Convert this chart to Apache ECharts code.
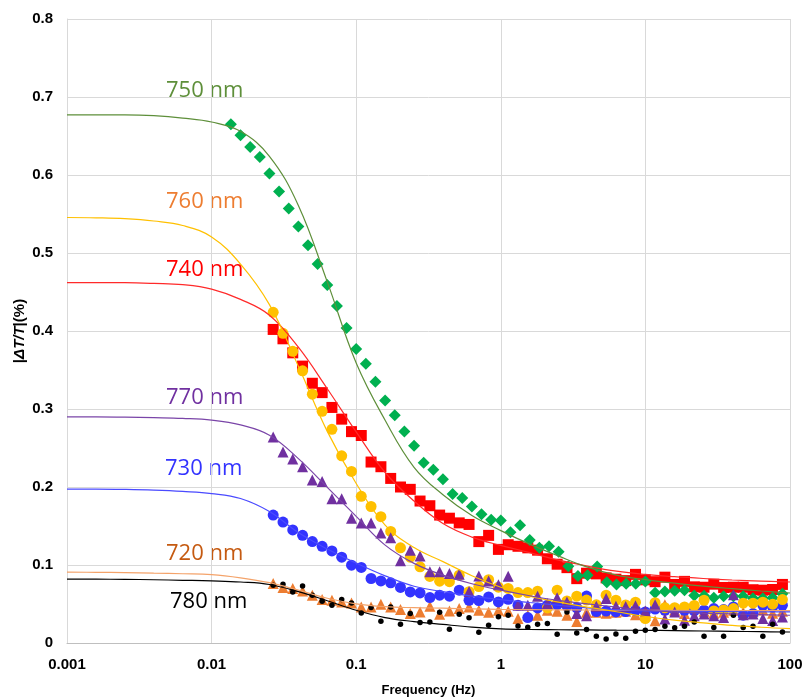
<!DOCTYPE html>
<html>
<head>
<meta charset="utf-8">
<script src="https://cdn.jsdelivr.net/npm/echarts@6/dist/echarts.min.js"></script>
<style>
  html, body { margin: 0; padding: 0; background: #ffffff; }
  #chart { width: 806px; height: 699px; }
</style>
</head>
<body>
<div id="chart"></div>
<script>
// Measurement frequencies (Hz), shared by the 720-780 nm runs
const freqB = [0.02666,0.03116,0.03641,0.04256,0.04974,0.05813,0.06793,0.07939,0.09279,0.1084,
  0.1267,0.1482,0.1732,0.2024,0.2365,0.2764,0.3231,0.3776,0.4413,0.5157,
  0.6031,0.7048,0.8237,0.9627,1.125,1.315,1.537,1.796,2.099,2.453,
  2.868,3.352,3.917,4.578,5.350,6.253,7.308,8.541,9.982,11.67,
  13.64,15.94,18.63,21.77,25.44,29.73,34.75,40.61,47.46,55.47,
  64.90,75.85,88.64];

// 750 nm run: low-frequency sweep up to 10 Hz, then high-frequency sweep
const freq750 = [0.01359,0.01585,0.01848,0.02154,0.02512,0.02929,0.03415,0.03981,0.04642,0.05412,
  0.0631,0.07356,0.08577,0.1,0.1166,0.1359,0.1585,0.1848,0.2154,0.2512,
  0.2929,0.3415,0.3981,0.4642,0.5412,0.631,0.7356,0.8577,1,1.166,
  1.359,1.585,1.848,2.154,2.512,2.929,3.415,3.981,4.642,5.412,
  6.31,7.356,8.577,10,
  11.67,13.64,15.94,18.63,21.77,25.44,29.73,34.75,40.61,47.46,55.47,64.9,75.85,88.64];

// |ΔT/T| (%) measured values
const val750 = [0.665,0.651,0.636,0.623,0.602,0.579,0.557,0.534,0.510,0.486,
  0.459,0.432,0.404,0.377,0.358,0.335,0.311,0.292,0.271,0.253,
  0.231,0.222,0.210,0.191,0.186,0.175,0.165,0.158,0.157,0.142,
  0.151,0.132,0.122,0.124,0.117,0.0985,0.086,0.087,0.098,0.078,
  0.075,0.076,0.076,0.079,
  0.0645,0.066,0.067,0.0675,0.061,0.0605,0.058,0.060,0.060,0.060,0.0575,0.0575,0.058,0.063];

const val740 = [0.402,0.390,0.372,0.355,0.333,0.321,0.302,0.287,0.271,0.266,
  0.232,0.226,0.211,0.200,0.197,0.182,0.176,0.164,0.160,0.154,
  0.152,0.130,0.138,0.120,0.126,0.124,0.122,0.119,0.108,0.101,
  0.0966,0.0825,0.0895,0.0886,0.0835,0.0818,0.080,0.088,0.081,0.0786,
  0.0844,0.0751,0.079,0.072,0.0715,0.0754,0.0712,0.0715,0.0715,0.0683,
  0.0677,0.0686,0.0751];

const val760 = [0.424,0.397,0.374,0.349,0.319,0.297,0.274,0.240,0.220,0.188,
  0.175,0.162,0.143,0.122,0.110,0.0976,0.0853,0.0793,0.0786,0.087,
  0.0658,0.0724,0.0812,0.0715,0.0699,0.0647,0.0647,0.0664,0.045,0.0677,
  0.054,0.060,0.055,0.049,0.0613,0.0548,0.0488,0.0523,0.0313,0.0516,
  0.0452,0.0452,0.0462,0.0482,0.0548,0.0411,0.0424,0.0442,0.051,0.051,
  0.0523,0.0497,0.0557];

const val770 = [0.264,0.245,0.236,0.226,0.209,0.207,0.185,0.185,0.160,0.154,
  0.154,0.141,0.135,0.1056,0.119,0.1116,0.0912,0.0912,0.0891,0.0882,
  0.066,0.086,0.0796,0.0748,0.0857,0.0484,0.0484,0.060,0.0506,0.058,
  0.0527,0.0378,0.0349,0.0471,0.057,0.0471,0.0467,0.0478,0.0411,0.0491,
  0.0307,0.0398,0.0292,0.0349,0.0373,0.0349,0.0326,0.0617,0.0362,0.0373,
  0.0313,0.0288,0.0334];

const val730 = [0.164,0.155,0.145,0.138,0.130,0.124,0.118,0.110,0.0998,0.0969,
  0.0827,0.0796,0.0771,0.0712,0.0655,0.0642,0.0583,0.0613,0.060,0.0677,
  0.0548,0.0545,0.0591,0.0527,0.0561,0.0484,0.0326,0.045,0.0484,0.0491,
  0.0474,0.0452,0.0602,0.0403,0.041,0.0398,0.0403,0.042,0.0398,0.0435,
  0.042,0.0429,0.042,0.0411,0.042,0.0442,0.0429,0.0462,0.0356,0.0378,
  0.0484,0.0462,0.0484];

const val720 = [0.0763,0.0712,0.0699,0.0668,0.0613,0.0557,0.0548,0.0527,0.0514,0.0462,
  0.0462,0.0497,0.0462,0.0429,0.0378,0.0398,0.0471,0.0369,0.0411,0.0442,
  0.0462,0.042,0.0394,0.042,0.0407,0.0313,0.0356,0.0356,0.042,0.0407,
  0.0356,0.0275,0.0394,0.0394,0.038,0.0394,0.0407,0.0362,0.0356,0.0285,
  0.0491,0.042,0.0378,0.0462,0.0407,0.038,0.0394,0.042,0.0394,0.0407,
  0.0424,0.038,0.0407];

const val780 = [0.0741,0.0754,0.0655,0.0732,0.0613,0.0536,0.0484,0.0557,0.0514,0.0385,
  0.0455,0.0279,0.0462,0.024,0.0378,0.0262,0.027,0.0394,0.0176,0.0369,
  0.0324,0.0137,0.0227,0.0337,0.0356,0.0218,0.0202,0.024,0.0249,0.0112,
  0.0398,0.0128,0.0172,0.0086,0.0051,0.0116,0.006,0.015,0.0163,0.0172,
  0.0215,0.0195,0.0215,0.027,0.0086,0.0198,0.0086,0.0356,0.0198,0.0215,
  0.0086,0.024,0.0141];

// Fitted response curves, sampled at five points per decade
const fitFreq = [0.001,0.001585,0.002512,0.003981,0.00631,
  0.01,0.01585,0.02512,0.03981,0.0631,
  0.1,0.1585,0.2512,0.3981,0.631,
  1,1.585,2.512,3.981,6.31,
  10,15.85,25.12,39.81,63.1,100];
const fit750 = [0.677,0.677,0.677,0.676,0.673,0.668,0.656,0.624,0.561,0.463,
  0.359,0.2856,0.2253,0.190,0.1634,0.1441,0.1268,0.1114,0.0972,0.087,
  0.0812,0.0767,0.0728,0.0696,0.0667,0.0641];
const fit740 = [0.462,0.462,0.4619,0.461,0.4594,0.4537,0.4405,0.4203,0.3792,0.326,
  0.2706,0.2186,0.182,0.1531,0.1358,0.1251,0.1159,0.1062,0.0985,0.0921,
  0.0879,0.085,0.0827,0.0808,0.0794,0.0782];
const fit760 = [0.5455,0.5451,0.544,0.541,0.5353,0.5205,0.4858,0.4338,0.3548,0.2713,
  0.2045,0.1512,0.1223,0.1043,0.0863,0.0715,0.0602,0.0525,0.0461,0.0401,
  0.034,0.0294,0.0258,0.0225,0.0202,0.0185];
const fit770 = [0.2899,0.2899,0.2895,0.2889,0.288,0.2858,0.2796,0.2664,0.2364,0.1996,
  0.1624,0.1255,0.1021,0.087,0.076,0.0677,0.0606,0.0546,0.0501,0.0461,
  0.042,0.0398,0.0383,0.0373,0.0364,0.0356];
const fit730 = [0.1974,0.1974,0.197,0.1961,0.1944,0.1916,0.1852,0.1685,0.1416,0.1204,
  0.1024,0.0861,0.0728,0.0658,0.060,0.0555,0.0519,0.0484,0.045,0.0426,
  0.0412,0.0407,0.0405,0.0402,0.040,0.0398];
const fit720 = [0.0908,0.0906,0.0902,0.0895,0.0888,0.0877,0.0836,0.0773,0.0677,0.0574,
  0.0502,0.0466,0.0453,0.0446,0.0438,0.0432,0.0428,0.0425,0.0423,0.042,
  0.0419,0.0418,0.0416,0.0415,0.0414,0.0414];
const fit780 = [0.0818,0.0818,0.0816,0.0811,0.0804,0.0796,0.0782,0.075,0.0658,0.0542,
  0.042,0.0326,0.0275,0.0238,0.0204,0.0182,0.0173,0.017,0.0167,0.0164,
  0.0163,0.0159,0.0154,0.015,0.0145,0.0141];

// Axis tick labels
const xTickLabels = ['0.001', '0.01', '0.1', '1', '10', '100'];
const yTickLabels = ['0', '0.1', '0.2', '0.3', '0.4', '0.5', '0.6', '0.7', '0.8'];

// Wavelength labels
const waveLabels = ['750 nm', '760 nm', '740 nm', '770 nm', '730 nm', '720 nm', '780 nm'];

const pair = (xs, ys) => xs.map((x, i) => [x, ys[i]]);

const chart = echarts.init(document.getElementById('chart'), null, { renderer: 'canvas' });

function scatter(name, xs, ys, symbol, size, color) {
  return {
    name: name, type: 'scatter', data: pair(xs, ys),
    symbol: symbol, symbolSize: size,
    itemStyle: { color: color, opacity: 1 },
    silent: true, animation: false
  };
}
function fitLine(name, ys, color, width) {
  return {
    name: name + ' fit', type: 'line', data: pair(fitFreq, ys),
    showSymbol: false, smooth: 0.4,
    lineStyle: { color: color, width: width || 1.2 },
    silent: true, animation: false
  };
}

const series = [
  scatter('720 nm', freqB, val720, 'triangle', 11, '#ed7d31'),
  fitLine('720 nm', fit720, '#f4a36a'),
  scatter('730 nm', freqB, val730, 'circle', 11, '#3333ff'),
  fitLine('730 nm', fit730, '#4a4aff'),
  scatter('740 nm', freqB, val740, 'rect', 11, '#ff0000'),
  fitLine('740 nm', fit740, '#ff2a2a'),
  scatter('750 nm', freq750, val750, 'diamond', 12, '#00b050'),
  fitLine('750 nm', fit750, '#5e8f3a'),
  scatter('760 nm', freqB, val760, 'circle', 11, '#ffc000'),
  fitLine('760 nm', fit760, '#ffc000'),
  scatter('770 nm', freqB, val770, 'triangle', 11, '#7030a0'),
  fitLine('770 nm', fit770, '#7a45a8'),
  scatter('780 nm', freqB, val780, 'circle', 5.5, '#000000'),
  fitLine('780 nm', fit780, '#000000')
];

// Label placement (pixel anchor beside each plateau) and colours
const labelSpec = [
  { x: 166, y: 91, color: '#5e8f3a' },
  { x: 166, y: 202, color: '#ed7d31' },
  { x: 166, y: 270, color: '#ff0000' },
  { x: 166, y: 398, color: '#7030a0' },
  { x: 165, y: 469, color: '#3333ff' },
  { x: 166, y: 554, color: '#c55a11' },
  { x: 170, y: 602, color: '#000000' }
];
const graphics = waveLabels.map((t, i) => ({
  type: 'text', x: labelSpec[i].x, y: labelSpec[i].y, silent: true,
  style: {
    text: t, fill: labelSpec[i].color,
    font: '22px "Open Sans", sans-serif',
    textAlign: 'left', textVerticalAlign: 'middle', verticalAlign: 'middle'
  }
}));

const tickFont = { fontFamily: '"Liberation Sans", Arial, sans-serif', fontWeight: 'bold', fontSize: 15, color: '#000' };
const titleFamily = '"Liberation Sans", Arial, sans-serif';

chart.setOption({
  animation: false,
  backgroundColor: '#ffffff',
  grid: { left: 67, right: 16, top: 19, bottom: 56, containLabel: false, outerBoundsMode: 'none' },
  xAxis: {
    type: 'log', logBase: 10, min: 0.001, max: 100,
    name: 'Frequency (Hz)', nameLocation: 'middle', nameGap: 41, nameMoveOverlap: false,
    nameTextStyle: { fontFamily: titleFamily, fontWeight: 'bold', fontSize: 13, color: '#000' },
    axisLine: { show: true, lineStyle: { color: '#bfbfbf', width: 1 } },
    axisTick: { show: false },
    minorTick: { show: false },
    splitLine: { show: true, lineStyle: { color: '#d9d9d9', width: 1 } },
    axisLabel: Object.assign({
      margin: 14,
      formatter: function (v) {
        const idx = Math.round(Math.log10(v)) + 3;
        return xTickLabels[idx] !== undefined ? xTickLabels[idx] : '';
      }
    }, tickFont)
  },
  yAxis: {
    type: 'value', min: 0, max: 0.8, interval: 0.1,
    name: '{p||}{i|ΔT/T}{p||(%)}', nameLocation: 'middle', nameGap: 40, nameMoveOverlap: false,
    nameTextStyle: {
      fontFamily: titleFamily, fontWeight: 'bold', fontSize: 15, color: '#000',
      rich: {
        p: { fontFamily: titleFamily, fontWeight: 'bold', fontSize: 15, color: '#000' },
        i: { fontFamily: titleFamily, fontWeight: 'bold', fontStyle: 'italic', fontSize: 15, color: '#000' }
      }
    },
    axisLine: { show: true, lineStyle: { color: '#d9d9d9', width: 1 } },
    axisTick: { show: false },
    splitLine: { show: true, lineStyle: { color: '#d9d9d9', width: 1 } },
    axisLabel: Object.assign({
      margin: 14,
      formatter: function (v) {
        const idx = Math.round(v * 10);
        return yTickLabels[idx] !== undefined ? yTickLabels[idx] : '';
      }
    }, tickFont)
  },
  graphic: graphics,
  series: series
});
</script>
</body>
</html>
